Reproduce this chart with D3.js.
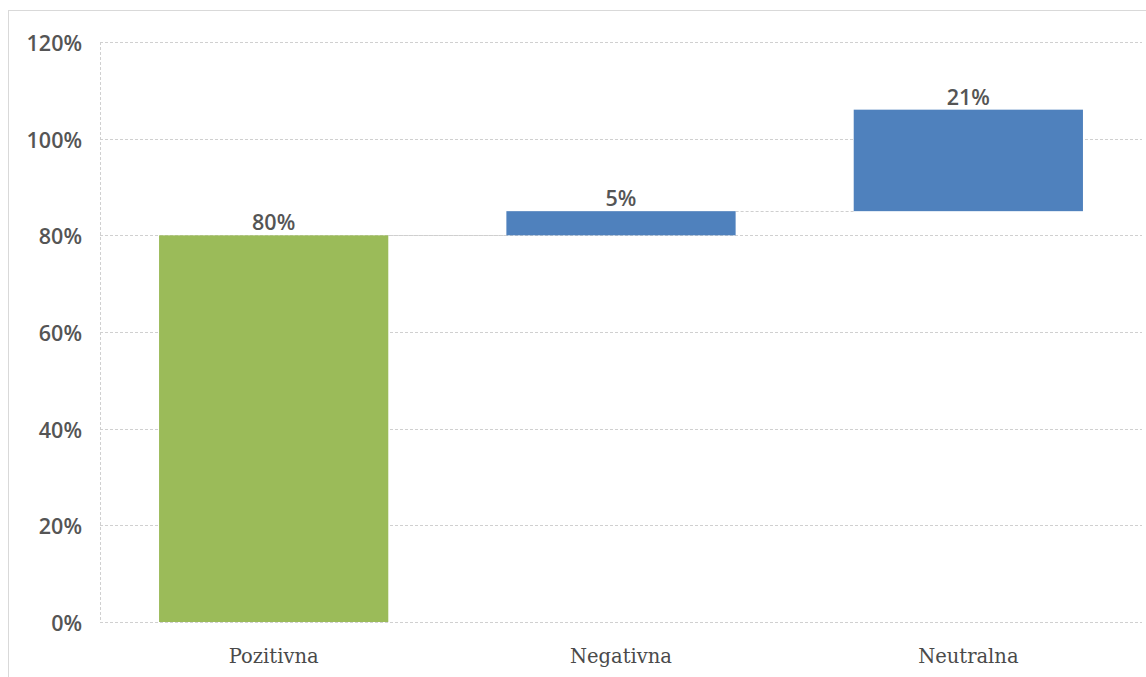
<!DOCTYPE html>
<html><head><meta charset="utf-8">
<script src="https://cdn.jsdelivr.net/npm/d3@7"></script>
<style>body{margin:0;background:#fff}svg{display:block}</style>
</head><body>
<svg id="c" width="1146" height="677"></svg>
<script>
const categories = ["Pozitivna", "Negativna", "Neutralna"];
const values = [80, 5, 21];
const barColors = ["#9BBB59", "#4F81BD", "#4F81BD"];
const yTicks = [0, 20, 40, 60, 80, 100, 120];

const svg = d3.select("#c");
const W = 1146, H = 677;
const m = {left: 100, right: 4, top: 42, bottom: 55};
const x = d3.scaleBand().domain(categories).range([m.left, W - m.right]).paddingInner(0.34).paddingOuter(0.17);
const y = d3.scaleLinear().domain([0, 120]).range([H - m.bottom, m.top]);

// chart frame
svg.append("rect").attr("x", 8.5).attr("y", 10.5).attr("width", 1300).attr("height", 800)
  .attr("fill", "none").attr("stroke", "#d9d9d9").attr("stroke-width", 1);

// gridlines
svg.append("g").selectAll("line").data(yTicks).join("line")
  .attr("x1", m.left).attr("x2", W - m.right)
  .attr("y1", d => Math.round(y(d)) + 0.5).attr("y2", d => Math.round(y(d)) + 0.5)
  .attr("stroke", "#d0d0d0").attr("stroke-dasharray", "3,2");
svg.append("line").attr("x1", m.left + 0.5).attr("x2", m.left + 0.5)
  .attr("y1", y(120)).attr("y2", y(0))
  .attr("stroke", "#d0d0d0").attr("stroke-dasharray", "3,2");

// y axis labels
const yAxis = d3.axisLeft(y).tickValues(yTicks).tickFormat(d => d + "%").tickSize(0).tickPadding(18);
const ga = svg.append("g").attr("transform", `translate(${m.left},0)`).call(yAxis);
ga.select(".domain").remove();
ga.selectAll("text").attr("font-family", "Open Sans, sans-serif").attr("font-size", 21.5)
  .attr("fill", "#555").attr("font-weight", 600).attr("dy", "0.4em");

// waterfall data
let cum = 0;
const bars = categories.map((c, i) => {
  const start = i === 0 ? 0 : cum;
  const end = start + values[i];
  cum = end;
  return {c, start, end, v: values[i], color: barColors[i]};
});

// connectors
svg.append("g").selectAll("line").data(bars.slice(0, -1)).join("line")
  .attr("x1", d => x(d.c) + x.bandwidth()).attr("x2", (d, i) => x(bars[i + 1].c))
  .attr("y1", d => Math.round(y(d.end)) + 0.5).attr("y2", d => Math.round(y(d.end)) + 0.5)
  .attr("stroke", "#cfcfcf").attr("stroke-dasharray", "3,2");

svg.append("g").selectAll("rect").data(bars).join("rect")
  .attr("x", d => x(d.c)).attr("width", x.bandwidth())
  .attr("y", d => y(d.end)).attr("height", d => y(d.start) - y(d.end))
  .attr("fill", d => d.color);

svg.append("g").selectAll("text").data(bars).join("text")
  .attr("x", d => x(d.c) + x.bandwidth() / 2).attr("y", d => y(d.end) - 5)
  .attr("text-anchor", "middle").attr("font-family", "Open Sans, sans-serif")
  .attr("font-size", 21.5).attr("fill", "#555").attr("font-weight", 600)
  .text(d => d.v + "%");

// x axis labels
const xAxis = d3.axisBottom(x).tickSize(0).tickPadding(27);
const gx = svg.append("g").attr("transform", `translate(0,${y(0)})`).call(xAxis);
gx.select(".domain").remove();
gx.selectAll("text").attr("font-family", "DejaVu Serif, serif").attr("font-size", 19.5).attr("fill", "#4a4a4a");
</script>
</body></html>
